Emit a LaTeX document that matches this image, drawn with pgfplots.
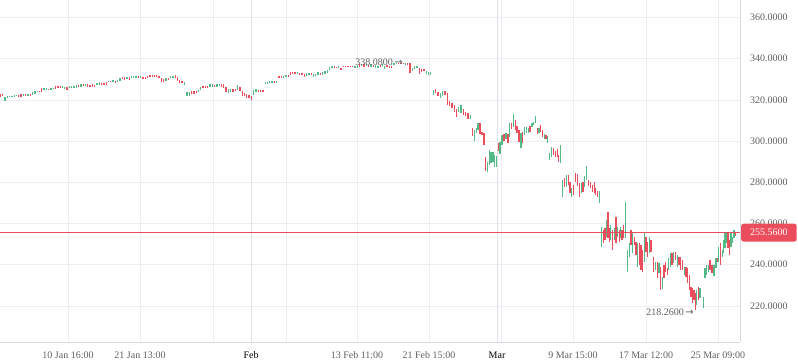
\documentclass[border=0pt]{standalone}
\usepackage{fontspec}
\setmainfont{Liberation Serif}
\newfontfamily\dvsans{DejaVu Sans}
\usepackage{pgfplots}
\pgfplotsset{compat=1.18}
\usepackage{pgfplotstable}
\definecolor{cup}{RGB}{83,185,135}
\definecolor{cdn}{RGB}{235,77,92}
\definecolor{gridc}{RGB}{236,238,241}
\definecolor{gridd}{RGB}{222,225,229}
\definecolor{axc}{RGB}{214,218,222}
\definecolor{txt}{RGB}{95,95,95}

\pgfplotstableread{
x lo hi
5.0 319.7 321.4
7.3 320.9 321.9
9.6 321.2 322.1
11.9 321.4 322.1
14.2 321.4 322.4
16.5 321.7 322.6
23.4 321.9 322.9
28.0 321.9 322.9
32.6 322.4 323.6
34.9 322.9 324.3
37.2 323.6 324.3
44.1 324.8 325.8
46.4 324.8 325.8
51.0 324.8 325.8
53.3 325.1 326.0
62.5 325.8 326.8
64.8 325.5 326.5
69.4 325.8 326.8
71.7 326.0 326.8
74.0 326.0 326.8
76.3 326.0 327.0
80.9 326.5 327.5
85.5 326.8 327.7
97.0 327.2 328.2
99.3 327.2 328.5
108.5 328.5 329.4
113.1 328.7 329.7
117.7 328.7 329.7
120.0 329.2 330.6
126.9 330.2 331.1
131.5 330.4 331.4
133.8 330.6 331.6
136.1 330.6 331.6
140.7 330.6 331.6
166.0 329.4 330.6
170.6 330.6 331.6
172.9 330.6 331.6
184.4 327.0 328.9
187.0 321.9 323.8
189.3 321.9 323.6
198.5 323.6 324.8
200.8 324.8 326.3
210.0 326.5 327.5
212.3 326.5 327.5
216.9 326.5 327.5
219.2 326.8 327.7
228.4 323.4 325.3
230.7 323.8 325.3
237.6 324.8 327.2
253.7 322.4 324.8
256.0 323.6 325.3
265.2 327.5 328.7
267.5 327.7 328.9
269.8 328.2 329.2
272.1 328.2 329.2
276.7 328.2 329.2
283.6 330.6 331.6
285.9 330.9 331.9
297.4 332.6 333.6
306.6 331.6 333.1
308.9 332.1 333.3
313.5 330.9 332.6
315.8 331.4 332.8
318.1 332.1 333.6
322.7 332.3 333.6
325.0 332.6 334.0
327.3 333.3 334.5
329.6 334.5 336.0
331.9 335.5 336.7
338.8 335.5 336.5
354.9 335.7 336.7
357.2 335.5 337.0
361.8 336.5 337.4
366.4 336.5 337.4
371.0 336.2 337.2
375.6 335.5 337.0
377.9 335.3 336.5
382.5 336.5 337.4
384.8 335.0 336.5
394.0 337.0 337.9
396.3 337.2 338.0
405.5 337.0 337.9
412.4 334.2 335.7
414.7 335.0 336.5
417.0 335.3 336.7
426.2 332.8 334.0
428.5 332.1 333.6
430.8 332.3 333.6
433.5 322.4 324.8
440.4 320.9 323.4
442.7 321.9 324.3
458.8 314.2 316.6
461.1 313.7 317.6
470.3 310.8 312.7
474.4 300.1 305.4
476.2 304.0 306.4
478.1 305.4 308.8
487.4 285.0 289.9
489.2 288.4 295.7
491.0 289.4 294.8
492.9 289.9 294.8
494.8 287.5 293.3
496.7 287.5 292.8
500.0 293.8 299.6
502.0 298.2 303.0
506.0 301.1 304.0
509.7 302.0 308.8
513.3 306.9 313.2
521.0 296.7 304.0
524.4 303.0 306.9
526.3 304.0 306.9
528.2 304.0 306.4
532.0 306.9 308.8
533.8 307.9 309.3
535.4 308.8 312.2
539.0 304.0 306.4
544.3 301.1 303.5
547.6 299.1 302.5
549.5 290.9 294.3
551.3 292.3 297.2
560.4 289.4 298.2
562.3 272.9 281.2
566.3 277.7 283.6
571.7 272.9 277.3
581.3 274.9 279.7
584.6 277.7 283.1
586.3 281.2 287.9
599.3 270.0 275.8
601.7 248.6 258.3
606.7 253.5 261.7
610.7 252.0 259.3
614.3 252.0 257.8
617.7 253.5 258.3
620.7 253.0 258.3
625.3 253.0 270.5
627.3 236.5 247.2
629.3 243.8 250.5
632.7 245.7 255.4
637.7 238.9 250.5
644.3 241.3 255.4
649.3 245.7 253.5
655.3 237.5 241.3
659.0 236.0 240.9
662.3 228.2 234.0
668.7 237.5 243.3
670.3 238.9 245.7
673.7 240.9 246.2
677.3 238.9 244.8
684.3 235.0 238.9
696.7 220.5 227.8
700.0 223.8 228.7
703.3 219.0 224.3
705.0 233.6 238.4
706.7 235.0 239.9
708.3 236.5 239.9
714.0 234.5 239.9
716.0 238.4 243.3
718.7 241.3 248.6
722.3 243.8 247.2
723.7 245.7 252.0
725.0 248.1 255.9
726.7 250.6 255.4
731.0 248.6 255.4
732.3 250.6 253.5
734.0 253.0 256.9
}\upbars

\pgfplotstableread{
x lo hi
0.5 321.4 322.9
2.8 321.9 322.9
18.8 321.4 322.4
21.1 321.4 322.9
25.7 321.9 322.9
30.3 321.7 322.9
39.5 323.6 324.3
41.8 323.8 325.8
48.7 324.6 325.5
55.6 325.5 326.8
57.9 325.8 326.8
60.2 325.8 326.8
67.1 324.6 326.3
78.6 326.3 327.0
83.2 326.8 327.7
87.8 326.3 327.5
90.1 326.3 327.2
92.4 326.3 327.5
94.7 326.3 327.2
101.6 327.0 328.2
103.9 327.2 328.2
106.2 327.2 328.5
110.8 328.5 329.4
115.4 328.2 329.2
122.3 330.2 331.1
124.6 329.9 331.1
129.2 329.9 331.1
138.4 330.4 331.4
143.0 330.2 331.1
145.3 330.2 331.1
147.6 330.6 331.6
149.9 331.1 332.1
152.2 331.1 332.1
154.5 331.1 332.1
156.8 330.9 332.1
159.1 330.4 331.6
161.4 328.9 330.6
163.7 328.7 330.2
168.3 329.7 330.6
175.2 330.4 332.1
177.5 329.4 331.1
179.8 328.2 329.7
182.1 328.0 329.4
191.6 323.1 324.3
193.9 323.1 324.3
196.2 323.4 324.3
203.1 325.8 326.8
205.4 325.8 326.8
207.7 325.8 326.8
214.6 326.3 327.2
221.5 326.3 327.7
223.8 326.0 327.5
226.1 323.8 326.3
233.0 323.8 325.3
235.3 324.3 325.3
239.9 324.3 326.3
242.2 321.9 324.1
244.5 321.9 323.4
246.8 320.9 322.9
249.1 320.7 322.6
251.4 320.0 322.1
258.3 323.6 324.8
260.6 323.6 324.8
262.9 323.6 324.6
274.4 328.2 329.2
279.0 330.4 331.6
281.3 330.4 331.6
288.2 331.1 332.1
290.5 332.3 333.6
292.8 332.6 333.6
295.1 332.6 333.6
299.7 332.3 333.3
302.0 332.1 333.1
304.3 331.1 332.8
311.2 331.9 333.1
320.4 332.3 333.3
334.2 335.3 336.5
336.5 335.3 336.2
341.1 334.3 335.5
343.4 336.0 336.7
345.7 336.0 336.7
348.0 336.2 336.7
350.3 336.2 336.7
352.6 336.0 336.7
359.5 336.2 337.2
364.1 336.2 337.2
368.7 336.0 337.0
373.3 336.0 337.0
380.2 336.0 337.0
387.1 336.0 337.0
389.4 335.7 336.7
391.7 335.5 336.5
398.6 337.4 338.08
400.9 337.2 337.9
403.2 337.2 337.9
407.8 337.0 337.9
410.1 333.2 337.9
419.3 332.6 335.5
421.6 333.6 335.0
423.9 333.8 334.8
435.8 323.4 325.5
438.1 321.9 323.8
445.0 322.4 324.3
447.3 317.6 323.4
449.6 317.1 319.5
451.9 316.1 318.5
454.2 314.2 317.6
456.5 311.7 315.6
463.4 312.7 315.6
465.7 312.2 314.2
468.0 310.8 313.7
472.6 302.5 306.4
480.0 303.5 308.8
482.0 303.0 304.5
484.0 298.2 304.0
485.7 285.5 292.3
498.2 295.2 299.1
504.0 300.1 303.5
508.0 299.1 303.5
511.5 305.9 308.8
515.2 305.4 310.3
517.0 304.0 307.4
519.0 299.6 305.4
522.6 299.1 304.5
530.0 304.5 307.4
537.2 303.5 306.4
540.8 304.5 307.9
542.6 302.0 305.4
546.0 301.1 303.0
553.3 293.3 296.7
555.3 292.3 295.2
557.3 292.3 296.2
558.8 289.9 293.3
564.3 277.7 282.1
568.3 278.7 283.6
570.0 274.9 280.2
573.3 273.9 278.7
575.3 280.2 284.5
577.3 278.2 284.0
579.3 272.9 279.7
583.0 275.3 280.2
588.3 278.2 281.2
590.3 277.3 280.2
592.3 275.3 278.7
594.2 274.9 280.2
595.8 273.9 277.3
597.4 272.9 275.8
603.3 250.6 256.9
605.0 252.0 257.8
608.0 253.0 265.6
609.3 251.0 257.8
612.3 247.2 256.9
616.0 250.6 263.2
619.3 251.0 256.9
622.0 252.0 256.9
623.3 253.0 259.3
631.0 249.6 256.9
634.3 249.6 253.5
636.0 244.8 251.0
639.3 239.9 250.5
641.0 237.5 249.6
642.7 236.5 247.2
646.0 246.2 253.5
647.7 243.8 251.0
651.0 246.2 252.0
653.3 236.5 243.8
657.3 233.6 241.3
660.7 227.8 238.9
664.0 233.6 239.9
665.7 236.5 241.3
667.3 235.0 238.4
672.0 239.9 245.7
675.3 242.3 246.2
679.0 239.9 243.8
680.7 237.5 243.8
682.7 237.5 242.3
686.0 234.0 238.9
687.7 231.1 238.4
689.3 227.8 235.0
691.0 224.3 229.2
692.7 221.4 228.7
694.0 222.9 227.8
695.3 218.26 226.3
698.3 222.9 229.2
710.0 237.5 242.3
712.0 236.0 239.9
717.7 241.3 243.3
720.7 239.9 250.5
728.0 248.1 255.4
729.3 244.8 252.0
735.7 254.0 255.6
}\dnbars

\begin{document}
\begin{tikzpicture}
\useasboundingbox (0,0) rectangle (798pt,363pt);
\begin{axis}[
  at={(0pt,21pt)}, anchor=south west,
  scale only axis, width=740pt, height=342pt,
  xmin=0, xmax=740, ymin=202.5, ymax=368.5,
  axis x line*=bottom, axis y line*=right,
  axis line style={draw=axc, line width=0.8pt, -},
  tick style={draw=none},
  grid=major, major grid style={draw=gridc, line width=0.8pt},
  xtick={68,140,213,286,357,429,501,573,646,718},
  xticklabels={10 Jan 16:00,21 Jan 13:00,,,13 Feb 11:00,21 Feb 15:00,,9 Mar 15:00,17 Mar 12:00,25 Mar 09:00},
  extra x ticks={251,497},
  extra x tick labels={Feb,Mar},
  extra x tick style={major grid style={draw=gridd, line width=0.8pt}, xticklabel style={text=black}},
  ytick={220,240,260,280,300,320,340,360},
  yticklabels={220.0000,240.0000,260.0000,280.0000,300.0000,320.0000,340.0000,360.0000},
  ticklabel style={font=\fontsize{10}{12}\selectfont, text=txt},
  xticklabel style={yshift=-6pt},
  yticklabel style={xshift=6.5pt},
]
\addplot[draw=none, mark=none, forget plot,
  error bars/.cd, y dir=plus, y explicit, error mark=none,
  error bar style={line width=1.35pt, draw=cup, solid}]
  table[x=x, y=lo, y error expr=\thisrow{hi}-\thisrow{lo}] {\upbars};
\addplot[draw=none, mark=none, forget plot,
  error bars/.cd, y dir=plus, y explicit, error mark=none,
  error bar style={line width=1.35pt, draw=cdn, solid}]
  table[x=x, y=lo, y error expr=\thisrow{hi}-\thisrow{lo}] {\dnbars};
\addplot[cdn, line width=0.8pt, forget plot] coordinates {(0,255.56) (740,255.56)};
\node[anchor=east, inner sep=0pt, text=txt, font=\fontsize{10}{12}\selectfont] at (axis cs:403,338.08) {338.0800\,{\dvsans\fontsize{10}{12}\selectfont →}};
\node[anchor=east, inner sep=0pt, text=txt, font=\fontsize{10}{12}\selectfont] at (axis cs:694,216.8) {218.2600\,{\dvsans\fontsize{10}{12}\selectfont →}};
\coordinate (pl) at (axis cs:740,255.56);
\end{axis}
\node[anchor=west, fill=cdn, text=white, rounded corners=2.5pt, inner xsep=9pt, inner ysep=0pt, minimum height=18pt, font=\fontsize{10}{12}\selectfont] at ([xshift=1pt]pl) {255.5600};
\end{tikzpicture}
\end{document}
